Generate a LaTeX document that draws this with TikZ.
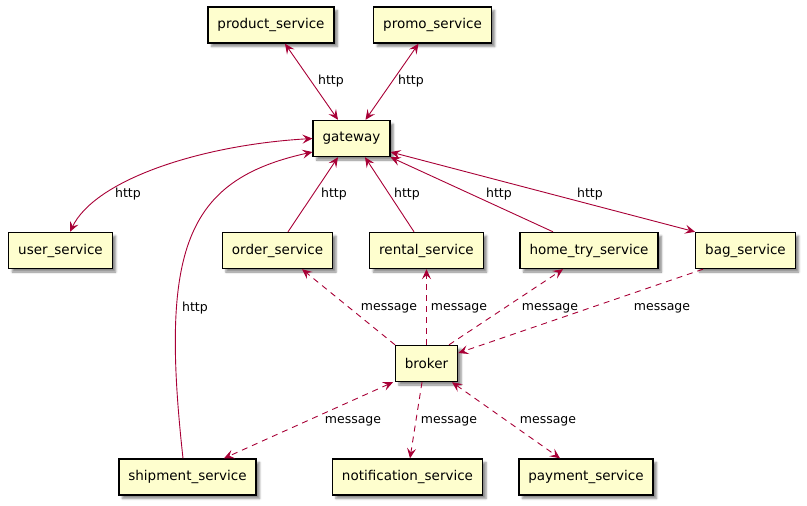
\documentclass[tikz,border=0pt]{standalone}
\usepackage{fontspec}
\setmainfont{DejaVu Sans}
\usetikzlibrary{arrows.meta,shadows.blur}
\definecolor{edgecol}{HTML}{A80036}
\definecolor{boxfill}{HTML}{FEFECE}
\tikzset{
  x=1pt,y=1pt,
  svc/.style={draw=black, line width=1.4pt, fill=boxfill, minimum height=36pt, inner xsep=9.5pt,
    font=\fontsize{13.5}{15}\selectfont,
    blur shadow={shadow xshift=3.5pt, shadow yshift=-3.5pt, shadow blur steps=5, shadow blur radius=2pt, shadow opacity=45}},
  lbl/.style={font=\fontsize{12.5}{14}\selectfont, inner sep=0pt},
  link/.style={draw=edgecol, line width=0.9pt, >={Stealth[length=10pt,width=9pt,inset=4pt]}},
  msg/.style={link, dash pattern=on 6pt off 5pt},
}
\begin{document}
\begin{tikzpicture}
\useasboundingbox (0,0) rectangle (807,-506);
% nodes
\node[svc] (product) at (271,-25) {product\_service};
\node[svc] (promo) at (432.5,-25) {promo\_service};
\node[svc] (gateway) at (351.5,-138.5) {gateway};
\node[svc] (user) at (60.5,-250.5) {user\_service};
\node[svc] (order) at (277.5,-250.5) {order\_service};
\node[svc] (rental) at (426.5,-250.5) {rental\_service};
\node[svc] (hometry) at (589,-250.5) {home\_try\_service};
\node[svc] (bag) at (745.5,-250.5) {bag\_service};
\node[svc] (broker) at (426.5,-363.5) {broker};
\node[svc] (shipment) at (187.5,-477) {shipment\_service};
\node[svc] (notification) at (407.5,-477) {notification\_service};
\node[svc] (payment) at (586,-477) {payment\_service};
% http links
\draw[link, <->] ([xshift=14pt]product.south) -- ([xshift=-13.5pt]gateway.north)
  node[lbl] at (331,-81) {http};
\draw[link, <->] ([xshift=-14pt]promo.south) -- ([xshift=14pt]gateway.north)
  node[lbl] at (411,-81) {http};
\draw[link, <->] (gateway.west) .. controls (200,-145) and (95,-180) .. ([xshift=9.5pt]user.north)
  node[lbl] at (128,-194) {http};
\draw[link, ->] ([xshift=10.5pt]order.north) -- ([xshift=-13.5pt]gateway.south)
  node[lbl] at (334,-194) {http};
\draw[link, ->] ([xshift=-12.5pt]rental.north) -- ([xshift=13.5pt]gateway.south)
  node[lbl] at (407,-194) {http};
\draw[link, ->] ([xshift=-36pt]hometry.north) -- (gateway.south east)
  node[lbl] at (499,-194) {http};
\draw[link, <->] ([yshift=-13.5pt]gateway.east) -- (bag.north west)
  node[lbl] at (590,-194) {http};
\draw[link, ->] ([xshift=-4.5pt]shipment.north) .. controls (160,-250) and (185,-180) .. ([yshift=-13.5pt]gateway.west)
  node[lbl] at (195,-308) {http};
% messages
\draw[msg, ->] ([xshift=-31.5pt]broker.north) -- ([xshift=24.5pt]order.south)
  node[lbl] at (389,-308) {message};
\draw[msg, ->] (broker.north) -- (rental.south)
  node[lbl] at (459,-308) {message};
\draw[msg, ->] ([xshift=22.5pt]broker.north) -- ([xshift=-26pt]hometry.south)
  node[lbl] at (550,-308) {message};
\draw[msg, ->] ([xshift=-42.5pt]bag.south) -- ([yshift=10.5pt]broker.east)
  node[lbl] at (662,-308) {message};
\draw[msg, <->] ([xshift=-33.5pt]broker.south) -- ([xshift=36.5pt]shipment.north)
  node[lbl] at (353,-421) {message};
\draw[msg, ->] ([xshift=-4.5pt]broker.south) -- ([xshift=2.5pt]notification.north)
  node[lbl] at (449,-421) {message};
\draw[msg, <->] ([xshift=25.5pt]broker.south) -- ([xshift=-26pt]payment.north)
  node[lbl] at (548,-421) {message};
\end{tikzpicture}
\end{document}
